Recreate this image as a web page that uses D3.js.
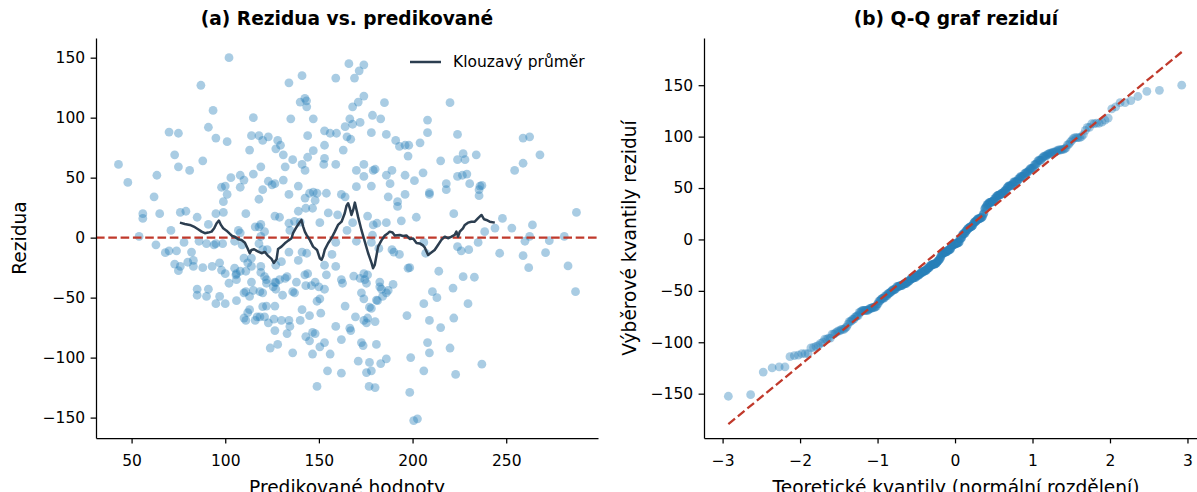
<!DOCTYPE html>
<html>
<head>
<meta charset="utf-8">
<script src="https://cdn.jsdelivr.net/npm/d3@7"></script>
<style>
    body { margin: 0; background: #fff; }
    svg { display: block; }
    text { font-family: "DejaVu Sans", sans-serif; fill: #000; }
</style>
</head>
<body>
<svg id="chart" width="1197" height="492"></svg>
<script>

// predicted values (x) and residuals (y)
var predicted = [
    102, 87, 93.5, 70, 75, 91, 95, 101, 73, 75, 88, 81, 43, 48, 63.5, 62, 98, 100, 101, 99,
    103, 108, 110, 108, 115, 113, 115, 114, 118, 120, 123, 119, 123, 120, 118, 125, 126.5, 128, 129.5, 127,
    131, 132, 131, 134, 134, 135, 141, 140, 142.5, 143.4, 143.5, 147, 144, 144, 141, 142.6, 147, 136, 139, 142.6,
    145, 147, 149, 148, 154, 159, 153, 156, 159.4, 153, 153, 152.6, 159, 163, 162,
    166, 171.5, 174, 169, 174, 171, 168, 166.5, 168, 172, 164, 165, 167, 185, 178.6, 183, 178, 186, 191, 193,
    196, 198, 197.6, 204, 208, 208, 220, 224, 170, 174, 174, 180, 189, 196, 201, 205.6, 215, 224, 227, 228,
    234, 224, 226.6, 229, 218, 218, 230.5, 236, 237, 235.5, 235.5, 170, 178, 188, 187, 196, 192, 209, 209, 164,
    254.5, 259, 262.5, 259, 268, 179, 186,
    56, 56, 65, 76, 79, 85, 71, 54, 63, 68, 70, 74, 78, 82, 73, 76, 80, 83, 83, 88,
    93, 97, 86, 90, 94, 95, 98.6, 95, 99, 108, 107, 105, 109, 111, 116, 118, 119, 110, 114, 112,
    114, 118, 119, 91, 119,
    139, 137, 140, 143, 146.6, 134, 134.5, 126.5, 129, 121, 150.5, 155, 160, 165, 176, 179, 181, 186, 194, 168,
    202, 192, 120, 122.4, 134, 130, 139, 141, 143.5, 127, 153, 157, 159, 159, 170, 178, 178.6, 182, 189, 190,
    193, 206, 207,
    222, 248, 253, 264, 287.5, 238.5, 244, 235, 224, 226, 230, 246.5, 260, 262.5, 273, 281, 259, 271, 262, 283,
    75, 98, 100, 105, 106, 105.7, 108, 111, 119, 102, 106, 85, 85, 91, 90, 95, 97, 100, 106, 114,
    111, 113, 115, 118.5, 120, 122, 121, 110, 126.5, 127, 129, 132, 133, 127, 130.6, 136, 137, 138, 142.5, 144,
    148, 150, 153, 150.5, 149, 154, 159, 113, 112, 110, 111, 116, 117, 118.5, 121, 120, 122, 123, 126, 126.5,
    130, 134, 134.5, 133, 126.5, 128, 124, 140, 141, 145, 151, 143, 146.6, 148, 145, 150.5, 153, 136, 146.6, 156,
    154.6, 149, 143, 146, 122, 125.6,
    197.6, 198.5, 214, 227, 233, 221.6, 210.6, 213, 229.6, 206, 197, 209, 222, 215, 208, 209, 220, 199, 237, 206,
    223, 198.5, 200.6, 202.6, 162, 162.6, 168.6, 174, 174.5, 175.4, 176, 182.5, 182.5, 183.4, 187, 186, 189.6, 172.7, 174, 164,
    177, 178, 180.7, 181.3, 184, 169.5, 174, 175.4, 176, 180, 166.5, 167, 162, 172.7, 173.6, 180.7, 171, 177, 183, 186,
    175.4, 178, 162, 176.8, 180, 287, 172
];
var residuals = [
    150, 127, 106, 88, 87, 92, 83, 80, 69, 59, 64, 56, 61, 46, 52, 34, 42, 43, 36, 30,
    50, 52, 48, 42, 100, 73, 53, 85, 85, 81, 84, 59, 47, 40, 32, 44, 45, 81, 77, 74,
    69, 59, 48, 36, 129, 99, 135, 113, 116, 114, 109, 99, 85, 67, 61, 56, 72.5, 65, 43, 33,
    37, 38, 37, 31, 37, 133, 89, 87, 87, 77, 66, 61, 61, 73, 36,
    145, 139, 144, 133, 118, 113, 109, 99, 94.5, 96, 92.5, 84, 82, 112.5, 102, 99, 87.5, 86, 81, 76,
    77, 77, 68, 79, 87.5, 98, 112.5, 86, 56, 61, 51, 57, 56, 52, 47.5, 54, 64, 65, 70, 65,
    69, 51, 52, 53, 45, 40, 45, 43, 43.5, 40, 35, 42.5, 43, 45, 34, 36, 30, 37.5, 36, 34,
    56, 83, 84, 62, 69, 56, 52,
    20, 16, 20, 21, 22, 17, 6, 1, -6, -12.5, -11, -11, -4, -12, -22, -24, -20.5, -19, -24, -25,
    -24, -21, -3, -5, -6, -5, -5, 20, 21, 4, 6, -3, -6, 20, 9, 9, 11, -17, -17, -21,
    -24, -5, 1, 11, -24,
    22, 13.5, 13, 24.5, 24.5, 12, 6, 18, 17, 5, 12.5, 20.6, 19, 6, 18, 10.6, 12, 12.5, 14, 12.5,
    17, 26, -10, -10, -12, -20, -19, -12, -13, -23, -23, -14, -4, -24, -3, -4, 2, -9, -10, -12,
    -14, -4, -13,
    20, 16, 8, 10.6, 21, 5, 8, -4, -7.5, -11, -10, -13, -3, 1, -2.5, 1, -15, -12.5, -25, -23.6,
    -27.5, -27, -30, -25.5, -30, -31, -28, -28, -29, -38, -35, -43, -48, -43, -49, -55, -49, -55, -52.5, -37,
    -45, -49, -44, -45, -46, -35, -32.5, -46, -37, -37.5, -35, -34, -32.5, -43, -48, -45, -46, -37, -31, -30,
    -37, -41, -43, -51, -53, -31, -74, -60, -62.5, -67, -69, -69, -66, -66, -66, -57.5, -57, -71, -68, -57,
    -69, -69, -74, -80, -77.5, -89, -92, -69, -60, -65, -63, -82.5, -79, -80, -86, -91, -87.5, -96, -97, -97,
    -111, -124, -40, -40, -38, -41,
    -25.5, -25, -28, -32.5, -33, -42, -45, -50, -55, -55, -65, -69, -67, -75, -87.5, -96, -92, -100, -105.5, -111,
    -114, -129, -152.5, -151, -35, -38, -32, -30, -35, -38, -31, -37, -41, -43, -44, -46, -39, -46, -51, -57,
    -58, -59, -52, -52.5, -49, -66, -69, -71, -67, -70, -75.5, -77.5, -85, -87.5, -90, -89, -103, -104, -105, -101,
    -112.5, -111, -113, -124, -125, -45, -34
];

// rolling mean line (Klouzavý průměr), vertices
var rollPred = [
    75.8, 78.4, 81.1, 83.8, 85.5, 87.4, 89.1, 90.9, 92.7, 94.1, 95.4, 96.6, 97.7, 98.9, 100.7, 102.5, 103.7, 105.1, 106.9, 108.7,
    110.5, 111.9, 113.1, 114, 115.4, 117.6, 119.4, 121.1, 122.9, 124.7, 125.9, 127.4, 128.2, 130, 131.8, 133.6, 135.4, 136.2, 138, 139.4,
    140.7, 141.6, 142.5, 143.4, 145.1, 146.9, 149, 150.5, 151.4, 152.2, 153.1, 154.9, 156.7, 158.5, 160.2, 162.1, 163.8, 164.7, 165.6, 166.5,
    167.4, 168.3, 169.2, 170.1, 170.9, 172.7, 174.5, 176.3, 178.1, 178.9, 179.8, 180.7, 181.6, 183.4, 185.2, 186.9, 187.8, 189.3, 190.5, 193.2,
    194.9, 196.7, 198.5, 200.3, 202.1, 203.8, 205.6, 206.5, 208.3, 209.5, 211.8, 213.6, 215.4, 217.2, 218.9, 220.8, 222.5, 223.4, 224.3, 225.2,
    226.9, 227.9, 229.6, 231.4, 233.2, 235, 236.8, 238.2, 239.4, 241.2, 243.9
];
var rollResid = [
    12.5, 11.4, 10.6, 8.7, 7, 5, 3.7, 4.2, 5, 7.8, 12, 14.2, 10.6, 7.8, 5.8, 3.1, 1.4, 0.8, -1.3, -1.9,
    -4.2, -8.8, -13, -10.25, -9.7, -11.7, -13, -11.9, -15.25, -17.75, -21.1, -18, -9.4, -7.5, -4.7, -2.5, -0.5, 3.7, 8.7, 12,
    14.75, 9.2, 5, 2.25, -1.9, -7.5, -10.25, -17.2, -18.6, -15.8, -10.25, -4.7, -0.5, 5, 10.6, 13.3, 20.3, 26.4, 28.7, 24.5,
    18.9, 23.1, 29.2, 23.1, 17.5, 6.4, -3.3, -13, -21.1, -25.5, -22.75, -15.25, -7.5, -2.3, 1.8, 3.7, 5, 4.3, 1.8, 2.25,
    1.4, 1.8, -1.1, -0.7, -4.4, -4.8, -6.5, -8.2, -14.4, -13, -10.25, -6.1, -1.9, 0.8, -0.5, 0.8, 2.25, 5, 0.8, 5,
    7.8, 10.6, 12.5, 13.3, 13.3, 16.2, 18.9, 15.3, 14.75, 13.3, 12.5
];

var xTicksA = [50, 100, 150, 200, 250];
var yTicksA = [-150, -100, -50, 0, 50, 100, 150];
var xTicksB = [-3, -2, -1, 0, 1, 2, 3];
var yTicksB = [-150, -100, -50, 0, 50, 100, 150];

var titleA = '(a) Rezidua vs. predikované';
var titleB = '(b) Q-Q graf reziduí';
var legendLabel = 'Klouzavý průměr';

var blue = '#2980b9', red = '#c0392b', navy = '#2c3e50';
var tickFont = 15.5, labelFont = 18.6;

var svg = d3.select('#chart');

// inverse normal cdf (Acklam), used for the theoretical quantiles
function normInv(p) {
    var a = [-39.69683028665376, 220.9460984245205, -275.9285104469687, 138.3577518672690, -30.66479806614716, 2.506628277459239];
    var b = [-54.47609879822406, 161.5858368580409, -155.6989798598866, 66.80131188771972, -13.28068155288572];
    var c = [-0.007784894002430293, -0.3223964580411365, -2.400758277161838, -2.549732539343734, 4.374664141464968, 2.938163982698783];
    var d = [0.007784695709041462, 0.3224671290700398, 2.445134137142996, 3.754408661907416];
    var q, r;
    if (p < 0.02425) {
        q = Math.sqrt(-2 * Math.log(p));
        return (((((c[0] * q + c[1]) * q + c[2]) * q + c[3]) * q + c[4]) * q + c[5]) / ((((d[0] * q + d[1]) * q + d[2]) * q + d[3]) * q + 1);
    }
    if (p > 1 - 0.02425) {
        return -normInv(1 - p);
    }
    q = p - 0.5; r = q * q;
    return (((((a[0] * r + a[1]) * r + a[2]) * r + a[3]) * r + a[4]) * r + a[5]) * q / (((((b[0] * r + b[1]) * r + b[2]) * r + b[3]) * r + b[4]) * r + 1);
}

function styleAxis(g) {
    g.selectAll('.domain').attr('stroke', '#000').attr('stroke-width', 1.25);
    g.selectAll('.tick line').attr('stroke', '#000').attr('stroke-width', 1.25);
    g.selectAll('.tick text').attr('font-size', tickFont).attr('font-family', '"DejaVu Sans", sans-serif').attr('fill', '#000');
}

function drawAxes(x, y, xTicks, yTicks, box) {
    var gx = svg.append('g')
        .attr('transform', 'translate(0,' + box.bottom + ')')
        .call(d3.axisBottom(x).tickValues(xTicks).tickFormat(d3.format('d'))
            .tickSize(5.4).tickPadding(12).tickSizeOuter(0));
    styleAxis(gx);
    var gy = svg.append('g')
        .attr('transform', 'translate(' + box.left + ',0)')
        .call(d3.axisLeft(y).tickValues(yTicks).tickFormat(d3.format('d'))
            .tickSize(5.4).tickPadding(5.4).tickSizeOuter(0));
    styleAxis(gy);
}

function addTexts(box, title, xLabel, yLabel, yLabelX) {
    var cx = (box.left + box.right) / 2;
    svg.append('text')
        .attr('x', cx).attr('y', 24.5)
        .attr('text-anchor', 'middle')
        .attr('font-size', labelFont).attr('font-weight', 'bold')
        .text(title);
    svg.append('text')
        .attr('x', cx).attr('y', 494)
        .attr('text-anchor', 'middle')
        .attr('font-size', labelFont)
        .text(xLabel);
    svg.append('text')
        .attr('transform', 'translate(' + yLabelX + ',' + ((box.top + box.bottom) / 2) + ') rotate(-90)')
        .attr('text-anchor', 'middle')
        .attr('font-size', labelFont)
        .text(yLabel);
}

// ---- panel (a): residuals vs predicted
var boxA = {left: 96, right: 598, top: 38, bottom: 438};
var xA = d3.scaleLinear().domain([31, 299]).range([boxA.left, boxA.right]);
var yA = d3.scaleLinear().domain([-167, 166.4]).range([boxA.bottom, boxA.top]);

var pointsA = predicted.map(function (p, i) { return {x: p, y: residuals[i]}; });

svg.append('g').selectAll('circle')
    .data(pointsA)
    .enter().append('circle')
    .attr('cx', function (d) { return xA(d.x); })
    .attr('cy', function (d) { return yA(d.y); })
    .attr('r', 4.4)
    .attr('fill', blue)
    .attr('fill-opacity', 0.4);

svg.append('line')
    .attr('x1', boxA.left).attr('x2', boxA.right)
    .attr('y1', yA(0)).attr('y2', yA(0))
    .attr('stroke', red).attr('stroke-width', 2.3)
    .attr('stroke-dasharray', '8.6,3.7');

var rollLine = d3.line()
    .x(function (d, i) { return xA(rollPred[i]); })
    .y(function (d) { return yA(d); });

svg.append('path')
    .attr('d', rollLine(rollResid))
    .attr('fill', 'none')
    .attr('stroke', navy).attr('stroke-width', 2.5)
    .attr('stroke-linejoin', 'round');

drawAxes(xA, yA, xTicksA, yTicksA, boxA);
addTexts(boxA, titleA, 'Predikované hodnoty', 'Rezidua', 26);

// legend
svg.append('line')
    .attr('x1', 410).attr('x2', 441)
    .attr('y1', 62).attr('y2', 62)
    .attr('stroke', navy).attr('stroke-width', 2.5);
svg.append('text')
    .attr('x', 453).attr('y', 62)
    .attr('dy', '0.35em')
    .attr('font-size', tickFont)
    .text(legendLabel);

// ---- panel (b): Q-Q plot of the same residuals
var boxB = {left: 704, right: 1208, top: 38, bottom: 438};
var xB = d3.scaleLinear().domain([-3.24, 3.265]).range([boxB.left, boxB.right]);
var yB = d3.scaleLinear().domain([-193.1, 195.9]).range([boxB.bottom, boxB.top]);

var sorted = residuals.slice().sort(d3.ascending);
var n = sorted.length;
var theo = sorted.map(function (v, i) {
    var last = Math.pow(0.5, 1 / n);
    var p = i === 0 ? 1 - last : (i === n - 1 ? last : (i + 1 - 0.3175) / (n + 0.365));
    return normInv(p);
});

// least squares fit line, as a probability plot draws it
var mx = d3.mean(theo), my = d3.mean(sorted);
var sxy = d3.sum(theo, function (t, i) { return (t - mx) * (sorted[i] - my); });
var sxx = d3.sum(theo, function (t) { return (t - mx) * (t - mx); });
var slope = sxy / sxx, intercept = my - slope * mx;

svg.append('g').selectAll('circle')
    .data(sorted)
    .enter().append('circle')
    .attr('cx', function (d, i) { return xB(theo[i]); })
    .attr('cy', function (d) { return yB(d); })
    .attr('r', 4.4)
    .attr('fill', blue)
    .attr('fill-opacity', 0.4);

svg.append('line')
    .attr('x1', xB(theo[0])).attr('y1', yB(intercept + slope * theo[0]))
    .attr('x2', xB(theo[n - 1])).attr('y2', yB(intercept + slope * theo[n - 1]))
    .attr('stroke', red).attr('stroke-width', 2.3)
    .attr('stroke-dasharray', '8.6,3.7');

drawAxes(xB, yB, xTicksB, yTicksB, boxB);
addTexts(boxB, titleB, 'Teoretické kvantily (normální rozdělení)', 'Výběrové kvantily reziduí', 636);

</script>
</body>
</html>
